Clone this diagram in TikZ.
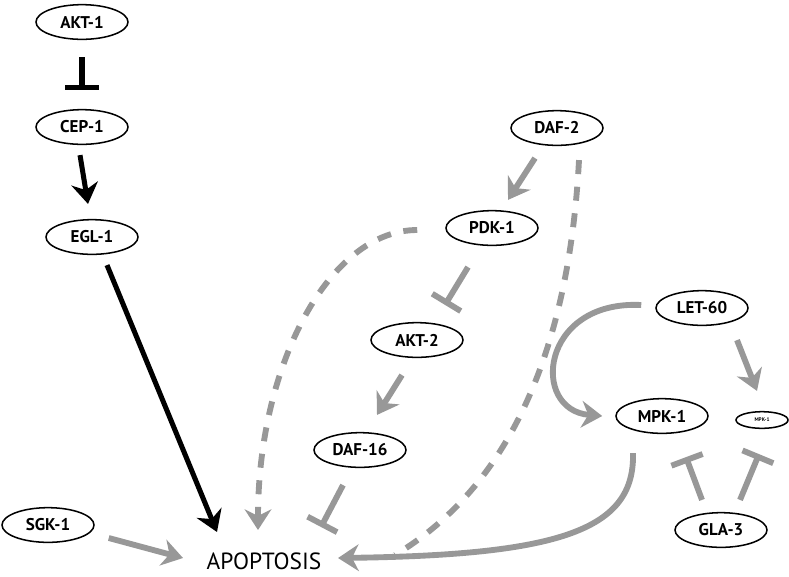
\documentclass[tikz,border=0pt]{standalone}
\usepackage{fontspec}
\setmainfont{PT Sans}
\usepackage{xcolor}
\usepackage{tikz}
\usetikzlibrary{shapes.geometric, arrows.meta, calc}
\definecolor{pathgray}{RGB}{152,152,152}

\begin{document}
\begin{tikzpicture}[
  x=0.03cm, y=-0.03cm,
  gene/.style={draw, ellipse, line width=1.3pt, minimum width=2.76cm, minimum height=1.04cm, inner sep=0pt, font=\bfseries\fontsize{14.5}{16}\selectfont},
  smallgene/.style={gene, minimum width=1.56cm, minimum height=0.5cm, font=\bfseries\fontsize{4.5}{5}\selectfont},
  act/.style={draw=pathgray, line width=5pt, -{Stealth[length=0.62cm, width=0.8cm, inset=0.2cm]}},
  inh/.style={draw=pathgray, line width=5pt, -{Bar[width=1cm]}},
  dashact/.style={act, dash pattern=on 0.42cm off 0.38cm},
  dashline/.style={draw=pathgray, line width=5pt, dash pattern=on 0.42cm off 0.38cm},
  blkact/.style={act, draw=black, line width=4.3pt},
  blkinh/.style={inh, draw=black, line width=4.3pt}
]
  \useasboundingbox (0,0) rectangle (789,576);

  \node[gene] (akt1)  at (82,22)   {AKT-1};
  \node[gene] (cep1)  at (82,127)  {CEP-1};
  \node[gene] (egl1)  at (92,237)  {EGL-1};
  \node[gene] (daf2)  at (557,128) {DAF-2};
  \node[gene] (pdk1)  at (492,228) {PDK-1};
  \node[gene] (akt2)  at (417,340) {AKT-2};
  \node[gene] (daf16) at (360,450) {DAF-16};
  \node[gene] (let60) at (702,308) {LET-60};
  \node[gene] (mpk1)  at (662,416) {MPK-1};
  \node[smallgene] (mpk1b) at (762,420) {MPK-1};
  \node[gene] (sgk1)  at (48,525)  {SGK-1};
  \node[gene] (gla3)  at (721,530) {GLA-3};
  \node[inner sep=0pt, font=\fontsize{20}{24}\selectfont] (apop) at (264,561) {APOPTOSIS};

  \draw[blkinh] ($(akt1.south)+(0,17)$) -- ($(cep1.north)+(0,-19)$);
  \draw[blkact] ($(cep1.south)+(-2,10)$) -- ($(egl1.north)+(-4,-15)$);
  \draw[blkact] ($(egl1.south)+(15,10)$) -- ($(apop)+(-47,-29)$);
  \draw[act] ($(sgk1.east)+(14,13)$) -- ($(apop)+(-81,-3)$);

  \draw[act] ($(daf2.south)+(-22,12)$) -- ($(pdk1.north)+(16,-10)$);
  \draw[inh] ($(pdk1.south)+(-24,21)$) -- ($(akt2.north)+(28,-17)$);
  \draw[act] ($(akt2.south)+(-15,17)$) -- ($(daf16.north)+(17,-17)$);
  \draw[inh] ($(daf16.south)+(-17,17)$) -- ($(apop)+(57,-34)$);
  \draw[dashact] ($(pdk1.west)+(-28,2)$) .. controls (330,230) and (258,364) .. ($(apop)+(-6,-31)$);
  \draw[dashline] ($(daf2.south)+(22,14)$) .. controls (570,330) and (520,480) .. ($(apop)+(131,-6)$);

  \draw[act] ($(mpk1.south)+(-29,19)$) .. controls (635,530) and (560,555) .. ($(apop)+(74,-3)$);
  \draw[act] ($(let60.west)+(-14,-3)$) .. controls (540,300) and (530,410) .. ($(mpk1.west)+(-13,0)$);
  \draw[act] ($(let60.south)+(35,14)$) -- ($(mpk1b.north)+(-5,-20)$);
  \draw[inh] ($(gla3.north)+(-19,-12)$) -- ($(mpk1.south)+(24,23)$);
  \draw[inh] ($(gla3.north)+(19,-12)$) -- ($(mpk1b.south)+(-3,25)$);
\end{tikzpicture}
\end{document}
